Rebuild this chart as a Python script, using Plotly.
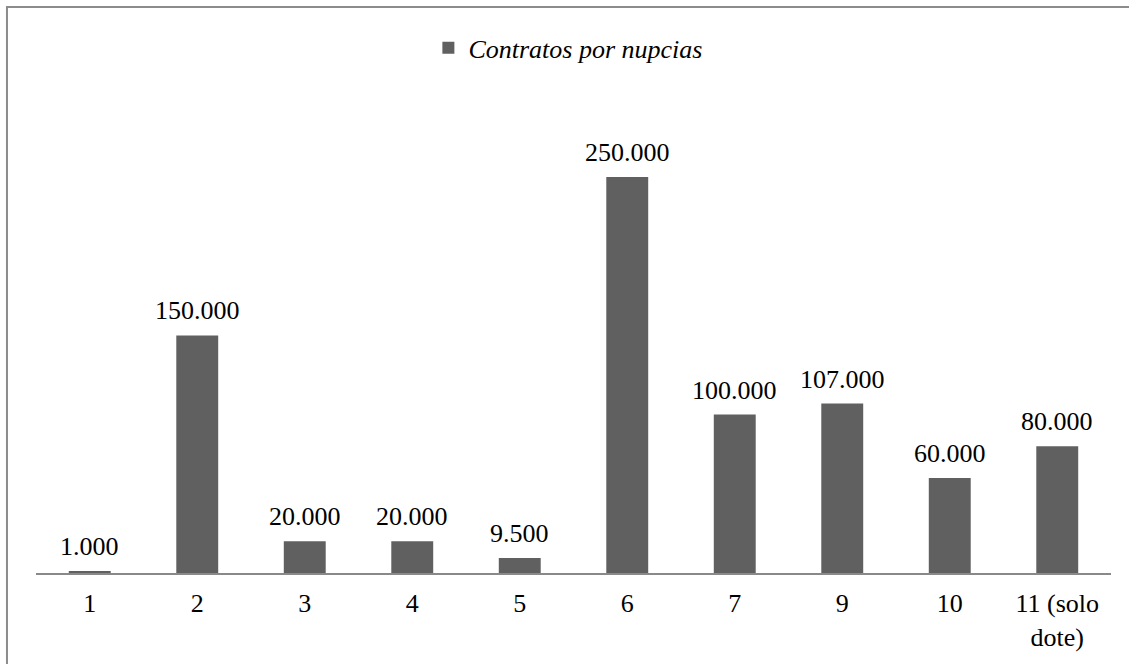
import plotly.graph_objects as go

categories = ["1", "2", "3", "4", "5", "6", "7", "9", "10", "11 (solo<br>dote)"]
values = [1000, 150000, 20000, 20000, 9500, 250000, 100000, 107000, 60000, 80000]
labels = ["1.000", "150.000", "20.000", "20.000", "9.500", "250.000", "100.000", "107.000", "60.000", "80.000"]
series_name = "Contratos por nupcias"

FONT = "Liberation Serif"
FS = 26

fig = go.Figure()
fig.add_trace(go.Bar(
    x=categories, y=values, name=series_name,
    marker=dict(color="#606060", line=dict(width=0)),
    showlegend=True,
))

# category axis: annotation x given as category index
for i, (v, t) in enumerate(zip(values, labels)):
    fig.add_annotation(x=i, y=v, xref="x", yref="y", text=t, showarrow=False,
                       yanchor="bottom", yshift=8,
                       font=dict(family=FONT, size=FS, color="#000000"))

fig.update_layout(
    width=1129, height=664,
    margin=dict(l=36, r=18, t=100, b=91),
    paper_bgcolor="white", plot_bgcolor="white",
    bargap=0.61,
    font=dict(family=FONT, size=FS, color="#000000"),
    showlegend=True,
    legend=dict(orientation="h", x=0.365, xanchor="left", y=1.11, yanchor="middle",
                font=dict(family=FONT, size=FS, style="italic", color="#000000"),
                itemwidth=30, bgcolor="rgba(0,0,0,0)"),
    xaxis=dict(type="category", categoryorder="array", categoryarray=categories,
               range=[-0.5, len(categories) - 0.5],
               showline=True, linecolor="#898989", linewidth=1.5,
               showgrid=False, ticks="", ticklabelstandoff=6,
               tickfont=dict(family=FONT, size=FS, color="#000000"),
               zeroline=False),
    yaxis=dict(range=[0, 298611], visible=False, showgrid=False, zeroline=False),
    shapes=[dict(type="rect", xref="paper", yref="paper",
                 x0=-0.027, x1=1.2, y0=-0.5, y1=1.1966,
                 line=dict(color="#8c8c8c", width=2), fillcolor="rgba(0,0,0,0)",
                 layer="below")],
)

fig.write_html("out.html")
